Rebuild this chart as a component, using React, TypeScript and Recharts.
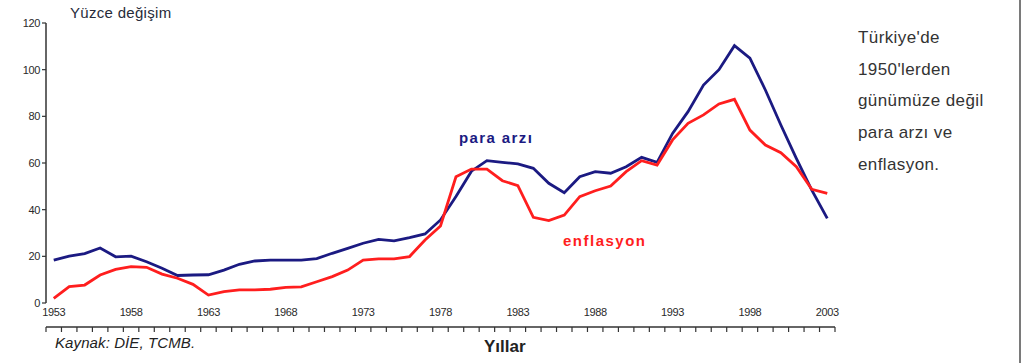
import { LineChart, Line, XAxis, YAxis } from "recharts"

const years = [
  1953, 1954, 1955, 1956, 1957, 1958, 1959, 1960, 1961, 1962,
  1963, 1964, 1965, 1966, 1967, 1968, 1969, 1970, 1971, 1972,
  1973, 1974, 1975, 1976, 1977, 1978, 1979, 1980, 1981, 1982,
  1983, 1984, 1985, 1986, 1987, 1988, 1989, 1990, 1991, 1992,
  1993, 1994, 1995, 1996, 1997, 1998, 1999, 2000, 2001, 2002, 2003,
]

// para arzı (yüzde değişim)
const paraArzi = [
  18.4, 20.1, 21.2, 23.6, 19.8, 20.1, 17.7, 14.9, 11.8, 12.0,
  12.1, 14.1, 16.6, 18.0, 18.4, 18.4, 18.4, 19.0, 21.3, 23.4,
  25.6, 27.3, 26.6, 28.0, 29.6, 35.6, 45.6, 56.5, 61.0, 60.3,
  59.6, 57.7, 51.3, 47.3, 54.1, 56.3, 55.6, 58.4, 62.4, 60.3,
  72.7, 82.0, 93.4, 100.0, 110.3, 104.9, 91.3, 76.3, 62.0, 48.4, 36.3,
]

// enflasyon (yüzde değişim)
const enflasyon = [
  2.0, 7.0, 7.7, 12.0, 14.4, 15.6, 15.3, 12.4, 10.6, 8.0,
  3.4, 4.9, 5.6, 5.6, 5.9, 6.7, 6.9, 9.1, 11.3, 14.1,
  18.4, 18.9, 18.9, 19.9, 27.0, 33.0, 54.1, 57.4, 57.4, 52.4,
  50.3, 36.7, 35.3, 37.7, 45.6, 48.1, 50.1, 56.3, 61.0, 59.1,
  69.9, 77.0, 80.6, 85.3, 87.3, 74.1, 67.7, 64.4, 58.4, 48.7, 47.0,
]

const yearLabels = [1953, 1958, 1963, 1968, 1973, 1978, 1983, 1988, 1993, 1998, 2003]
const yTicks = [0, 20, 40, 60, 80, 100, 120]

const data = years.map((y, i) => ({ year: y, para: paraArzi[i], enf: enflasyon[i] }))
const yearEdges = [...years.map((y) => y - 0.5), years[years.length - 1] + 0.5]

const NAVY = "#1b1a82"
const RED = "#ff1e1e"
const FONT = "'Liberation Sans', Arial, sans-serif"

const abs = (left: number, top: number, extra: React.CSSProperties = {}): React.CSSProperties => ({
  position: "absolute",
  left,
  top,
  lineHeight: 1,
  whiteSpace: "nowrap",
  fontFamily: FONT,
  ...extra,
})

export default function App() {
  return (
    <div
      style={{
        position: "fixed",
        left: 0,
        top: 0,
        width: 1024,
        height: 363,
        background: "#fff",
        overflow: "hidden",
        fontFamily: FONT,
      }}
    >
      <LineChart
        width={850}
        height={363}
        data={data}
        margin={{ top: 23, right: 15, left: 0, bottom: 30 }}
      >
        <XAxis
          xAxisId="tk"
          dataKey="year"
          type="number"
          domain={[1952.5, 2003.5]}
          ticks={yearEdges}
          interval={0}
          height={6}
          tickFormatter={() => ""}
          tickSize={5}
          axisLine={{ stroke: "#333", strokeWidth: 1.5 }}
          tickLine={{ stroke: "#333", strokeWidth: 1.2 }}
        />
        <XAxis
          xAxisId="lb"
          dataKey="year"
          type="number"
          domain={[1952.5, 2003.5]}
          ticks={yearLabels}
          interval={0}
          height={24}
          axisLine={false}
          tickLine={false}
          tickSize={3}
          tickMargin={2}
          tick={{ fontSize: 11, fill: "#2a2a2a", letterSpacing: -0.4 }}
        />
        <YAxis
          width={46}
          domain={[0, 120]}
          ticks={yTicks}
          interval={0}
          tickSize={4}
          tickMargin={2}
          axisLine={{ stroke: "#333", strokeWidth: 1.5 }}
          tickLine={{ stroke: "#333", strokeWidth: 1.2 }}
          tick={{ fontSize: 11, fill: "#2a2a2a", letterSpacing: -0.4 }}
        />
        <Line
          xAxisId="tk"
          type="linear"
          dataKey="para"
          stroke={NAVY}
          strokeWidth={2.8}
          dot={false}
          isAnimationActive={false}
        />
        <Line
          xAxisId="tk"
          type="linear"
          dataKey="enf"
          stroke={RED}
          strokeWidth={2.8}
          dot={false}
          isAnimationActive={false}
        />
      </LineChart>

      <div style={abs(70, 5, { fontSize: 15, color: "#272b3a", letterSpacing: 0.3 })}>Yüzce değişim</div>
      <div style={abs(459, 130, { fontSize: 15, fontWeight: "bold", color: NAVY, letterSpacing: 1.4 })}>para arzı</div>
      <div style={abs(563, 233, { fontSize: 15, fontWeight: "bold", color: RED, letterSpacing: 1.5 })}>enflasyon</div>
      <div style={abs(484, 338, { fontSize: 17, fontWeight: "bold", color: "#222" })}>Yıllar</div>
      <div style={abs(55, 335, { fontSize: 15, fontStyle: "italic", color: "#222", letterSpacing: 0.1 })}>
        Kaynak: DİE, TCMB.
      </div>

      <div
        style={abs(858, 22, {
          fontSize: 17,
          lineHeight: "31.7px",
          color: "#333",
          letterSpacing: 0.4,
        })}
      >
        Türkiye'de
        <br />
        1950'lerden
        <br />
        günümüze değil
        <br />
        para arzı ve
        <br />
        enflasyon.
      </div>

      <div style={{ position: "absolute", left: 1019, top: 0, width: 2, height: 363, background: "#7a7a7a" }} />
    </div>
  )
}
